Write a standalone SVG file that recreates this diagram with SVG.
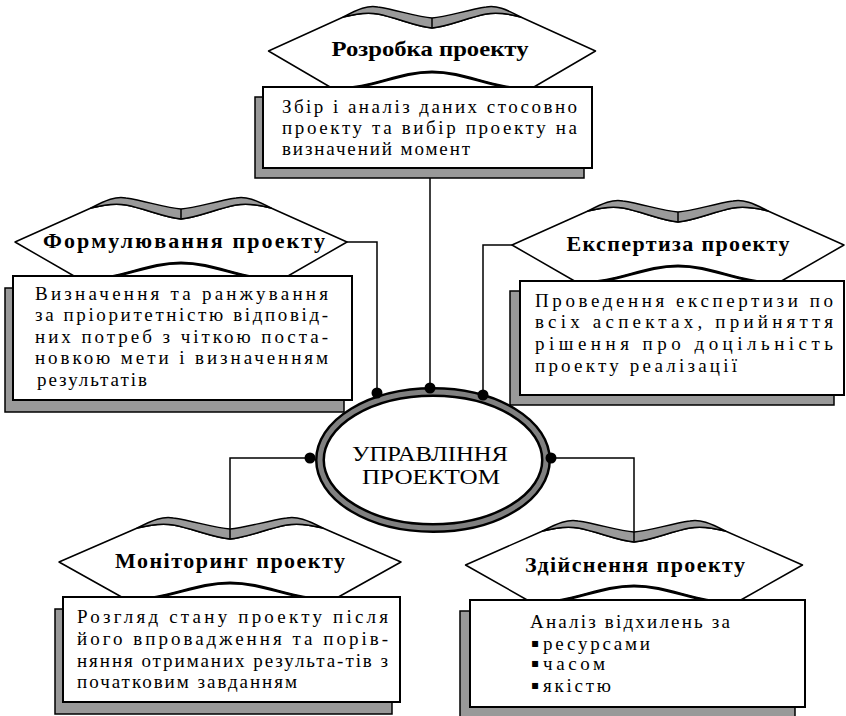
<svg xmlns="http://www.w3.org/2000/svg" width="846" height="716" viewBox="0 0 846 716">
<style>
.ban{fill:#fff;stroke:#000;stroke-width:1.5;stroke-linejoin:round}
.band{fill:#9a9a9a;stroke:#000;stroke-width:1.5;stroke-linejoin:round}
.bot{fill:none;stroke:#000;stroke-width:3}
.shadow{fill:#999;stroke:#000;stroke-width:1.5}
.box{fill:#fff;stroke:#000;stroke-width:2}
.title{font-family:"Liberation Serif","Times New Roman",serif;font-weight:bold;font-size:22px;text-anchor:middle}
.body{font-family:"Liberation Serif","Times New Roman",serif;font-size:19px}
.big{font-family:"Liberation Serif","Times New Roman",serif;font-size:20px;text-anchor:middle}
.conn{fill:none;stroke:#000;stroke-width:1.5}
.dot{fill:#000}
.bul{font-family:"DejaVu Sans",sans-serif;font-size:12px}
</style>
<defs>
<g id="banner">
<path class="ban" d="M-166,0 L-90,-34 C-75,-38 -65,-39 -55,-37 C-35,-33 -15,-24 0,-23 C15,-24 35,-33 55,-37 C65,-39 75,-38 90,-34 L166,0 L100,38 C60,38 35,21 0,21 C-35,21 -60,38 -100,38 Z"/>
<path class="band" d="M-90,-34 C-75,-42 -65,-46 -55,-44 C-35,-41 -15,-34 0,-33 C15,-34 35,-41 55,-44 C65,-46 75,-42 90,-34 C75,-38 65,-39 55,-37 C35,-33 15,-24 0,-23 C-15,-24 -35,-33 -55,-37 C-65,-39 -75,-38 -90,-34 Z"/>
<line x1="0" y1="-33" x2="0" y2="-23" stroke="#000" stroke-width="1.5"/>
<path class="bot" d="M-100,38 C-60,38 -35,21 0,21 C35,21 60,38 100,38"/>
</g>
</defs>
<rect width="846" height="716" fill="#fff"/>

<g id="connectors">
<path class="conn" d="M430,168 V388"/>
<path class="conn" d="M347,242 H377 V393"/>
<path class="conn" d="M512,245 H483 V395"/>
<path class="conn" d="M310,458 H230 V529"/>
<path class="conn" d="M551,458 H634 V532"/>
</g>

<g id="node-rozrobka">
<use href="#banner" transform="translate(432,51) scale(0.985,1)"/>
<text class="title" x="430" y="56" textLength="197" lengthAdjust="spacingAndGlyphs">Розробка проекту</text>
<rect class="shadow" x="255" y="97" width="329" height="81"/>
<rect class="box" x="263" y="87" width="329" height="81"/>
<text class="body" x="282" y="113" textLength="295" lengthAdjust="spacing">Збір і аналіз даних стосовно</text>
<text class="body" x="282" y="134" textLength="295" lengthAdjust="spacing">проекту та вибір проекту на</text>
<text class="body" x="282" y="155" textLength="188" lengthAdjust="spacing">визначений момент</text>
</g>

<g id="node-formuliuvannia">
<use href="#banner" transform="translate(181,242)"/>
<text class="title" x="184" y="248" textLength="282" lengthAdjust="spacing">Формулювання проекту</text>
<rect class="shadow" x="5" y="288" width="339" height="124"/>
<rect class="box" x="13" y="276" width="339" height="124"/>
<text class="body" x="35" y="300" textLength="293" lengthAdjust="spacing">Визначення та ранжування</text>
<text class="body" x="35" y="321" textLength="293" lengthAdjust="spacing">за пріоритетністю відповід-</text>
<text class="body" x="35" y="343" textLength="293" lengthAdjust="spacing">них потреб з чіткою поста-</text>
<text class="body" x="35" y="364" textLength="293" lengthAdjust="spacing">новкою мети і визначенням</text>
<text class="body" x="37" y="386" textLength="110" lengthAdjust="spacing">результатів</text>
</g>

<g id="node-ekspertyza">
<use href="#banner" transform="translate(678,245)"/>
<text class="title" x="678" y="251" textLength="223" lengthAdjust="spacing">Експертиза проекту</text>
<rect class="shadow" x="510" y="291" width="324" height="114"/>
<rect class="box" x="520" y="281" width="324" height="114"/>
<text class="body" x="535" y="307" textLength="298" lengthAdjust="spacing">Проведення експертизи по</text>
<text class="body" x="535" y="328" textLength="298" lengthAdjust="spacing">всіх аспектах, прийняття</text>
<text class="body" x="535" y="350" textLength="298" lengthAdjust="spacing">рішення про доцільність</text>
<text class="body" x="535" y="372" textLength="202" lengthAdjust="spacing">проекту реалізації</text>
</g>

<g id="node-upravlinnia">
<ellipse cx="433" cy="460" rx="113" ry="68" fill="#fff" stroke="#000" stroke-width="10"/>
<ellipse cx="433" cy="460" rx="113" ry="68" fill="none" stroke="#808080" stroke-width="5"/>
<text class="big" x="430" y="461" textLength="156" lengthAdjust="spacingAndGlyphs">УПРАВЛІННЯ</text>
<text class="big" x="431" y="484" textLength="138" lengthAdjust="spacingAndGlyphs">ПРОЕКТОМ</text>
</g>

<g id="dots">
<circle class="dot" cx="377" cy="393" r="5.5"/>
<circle class="dot" cx="430" cy="388" r="5.5"/>
<circle class="dot" cx="483" cy="395" r="5.5"/>
<circle class="dot" cx="310" cy="458" r="5.5"/>
<circle class="dot" cx="551" cy="458" r="5.5"/>
</g>

<g id="node-monitorynh">
<use href="#banner" transform="translate(230,562) scale(1.03,1)"/>
<text class="title" x="230" y="568" textLength="230" lengthAdjust="spacing">Моніторинг проекту</text>
<rect class="shadow" x="55" y="609" width="337" height="105"/>
<rect class="box" x="63" y="597" width="337" height="105"/>
<text class="body" x="77" y="623" textLength="311" lengthAdjust="spacing">Розгляд стану проекту після</text>
<text class="body" x="77" y="645" textLength="311" lengthAdjust="spacing">його впровадження та порів-</text>
<text class="body" x="77" y="667" textLength="311" lengthAdjust="spacing">няння отриманих результа-тів з</text>
<text class="body" x="77" y="688" textLength="220" lengthAdjust="spacing">початковим завданням</text>
</g>

<g id="node-zdiisnennia">
<use href="#banner" transform="translate(634,565) scale(1.015,1)"/>
<text class="title" x="635" y="572" textLength="220" lengthAdjust="spacing">Здійснення проекту</text>
<rect class="shadow" x="460" y="611" width="335" height="107"/>
<rect class="box" x="470" y="600" width="335" height="107"/>
<text class="body" x="530" y="628" textLength="200" lengthAdjust="spacing">Аналіз відхилень за</text>
<text class="bul" x="531" y="647">▪</text>
<text class="body" x="543" y="650" textLength="107" lengthAdjust="spacing">ресурсами</text>
<text class="bul" x="531" y="667">▪</text>
<text class="body" x="543" y="670" textLength="62" lengthAdjust="spacing">часом</text>
<text class="bul" x="531" y="689">▪</text>
<text class="body" x="543" y="692" textLength="68" lengthAdjust="spacing">якістю</text>
</g>
</svg>
